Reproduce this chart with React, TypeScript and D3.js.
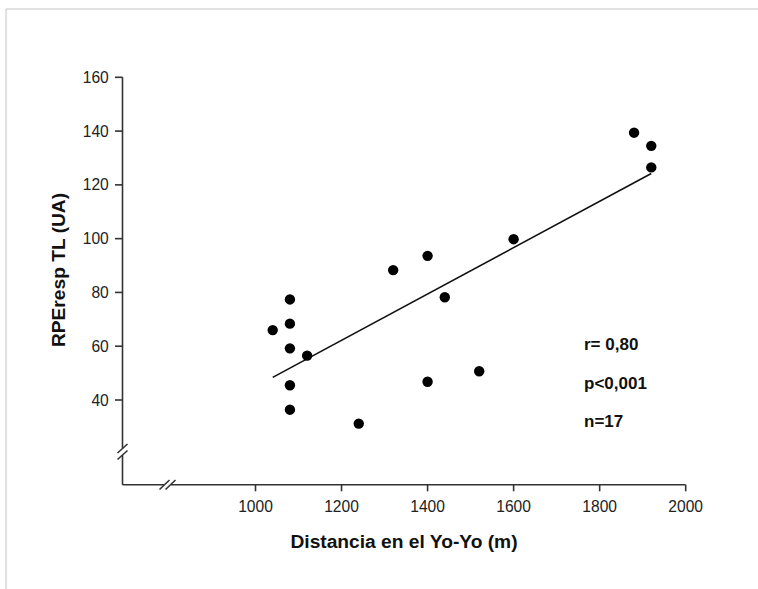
import React from "react";
import * as d3 from "d3";

const distancia: number[] = [1040, 1080, 1080, 1080, 1120, 1080, 1080, 1240, 1320, 1400, 1400, 1440, 1520, 1600, 1880, 1920, 1920];
const rpeTL: number[] = [66, 77.4, 68.4, 59.2, 56.5, 45.5, 36.4, 31.2, 88.3, 46.8, 93.6, 78.2, 50.7, 99.8, 139.4, 134.5, 126.5];
const xTicks: number[] = [1000, 1200, 1400, 1600, 1800, 2000];
const yTicks: number[] = [40, 60, 80, 100, 120, 140, 160];
const statsLines: string[] = ["r= 0,80", "p<0,001", "n=17"];
const xTitle = "Distancia en el Yo-Yo (m)";
const yTitle = "RPEresp TL (UA)";

const W = 758;
const H = 589;
const FONT = "'Liberation Sans', Arial, Helvetica, sans-serif";

export default function App() {
  const x = d3.scaleLinear().domain([1000, 2000]).range([255.5, 685.7]);
  const y = d3.scaleLinear().domain([40, 160]).range([400, 77.3]);

  const axisX = 122.5;
  const axisY = 484.8;
  const axisColor = "#333";

  // least-squares regression
  const mx = d3.mean(distancia) as number;
  const my = d3.mean(rpeTL) as number;
  let sxy = 0, sxx = 0;
  distancia.forEach((d, i) => {
    sxy += (d - mx) * (rpeTL[i] - my);
    sxx += (d - mx) * (d - mx);
  });
  const slope = sxy / sxx;
  const icpt = my - slope * mx;
  const [xmin, xmax] = d3.extent(distancia) as [number, number];
  const line = d3.line<number>().x((d) => x(d)).y((d) => y(icpt + slope * d));

  const yTop = y(160);

  return (
    <div style={{ position: "absolute", left: 0, top: 0 }}>
      <svg width={W} height={H} style={{ display: "block", background: "#fff" }}>
        {/* frame */}
        <line x1={6} y1={9} x2={W} y2={9} stroke="#c4c4c4" strokeWidth={1} />
        <line x1={6} y1={9} x2={6} y2={H} stroke="#c4c4c4" strokeWidth={1} />

        {/* axes with breaks */}
        <g stroke={axisColor} strokeWidth={1.6} fill="none">
          <line x1={axisX} y1={yTop} x2={axisX} y2={448} />
          <line x1={axisX} y1={455} x2={axisX} y2={axisY} />
          <line x1={117.5} y1={453} x2={127.5} y2={444} />
          <line x1={117.5} y1={459.5} x2={127.5} y2={450.5} />
          <line x1={axisX} y1={axisY} x2={164} y2={axisY} />
          <line x1={171} y1={axisY} x2={x(2000)} y2={axisY} />
          <line x1={159.5} y1={489.5} x2={169.5} y2={480} />
          <line x1={165.5} y1={489.5} x2={175.5} y2={480} />
        </g>

        {/* y ticks */}
        {yTicks.map((t) => (
          <g key={"y" + t}>
            <line x1={axisX - 7.5} x2={axisX} y1={y(t)} y2={y(t)} stroke={axisColor} strokeWidth={1.6} />
            <text x={108.8} y={y(t)} textAnchor="end" dominantBaseline="central" fontFamily={FONT} fontSize={15.6} fill="#222">
              {t}
            </text>
          </g>
        ))}

        {/* x ticks */}
        {xTicks.map((t) => (
          <g key={"x" + t}>
            <line x1={x(t)} x2={x(t)} y1={axisY} y2={axisY + 6.5} stroke={axisColor} strokeWidth={1.6} />
            <text x={x(t)} y={512} textAnchor="middle" fontFamily={FONT} fontSize={15.6} fill="#222">
              {t}
            </text>
          </g>
        ))}

        {/* titles */}
        <text x={404} y={548.3} textAnchor="middle" fontFamily={FONT} fontSize={19.2} fontWeight="bold" fill="#111">
          {xTitle}
        </text>
        <text
          transform={`translate(64.5,270) rotate(-90)`}
          textAnchor="middle"
          fontFamily={FONT}
          fontSize={19.2}
          fontWeight="bold"
          fill="#111"
        >
          {yTitle}
        </text>

        {/* regression line */}
        <path d={line([xmin, xmax]) || ""} stroke="#111" strokeWidth={1.6} fill="none" />

        {/* points */}
        {distancia.map((d, i) => (
          <circle key={i} cx={x(d)} cy={y(rpeTL[i])} r={5.2} fill="#000" />
        ))}

        {/* stats */}
        {statsLines.map((s, i) => (
          <text key={s} x={584} y={350 + i * 38.5} fontFamily={FONT} fontSize={17} fontWeight="bold" fill="#111">
            {s}
          </text>
        ))}
      </svg>
    </div>
  );
}
